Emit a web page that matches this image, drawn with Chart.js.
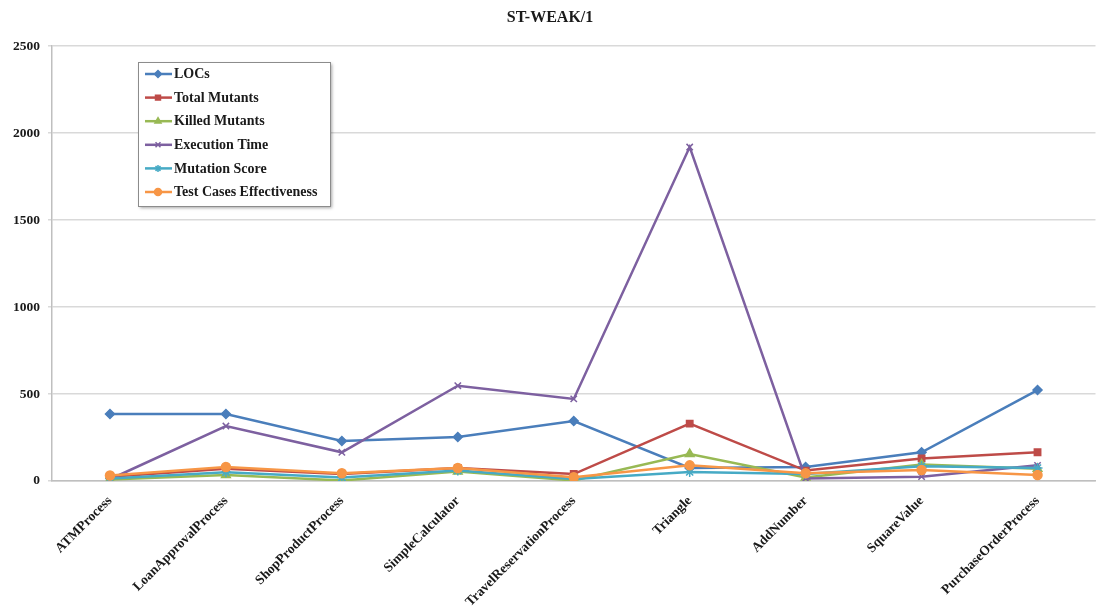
<!DOCTYPE html>
<html>
<head>
<meta charset="utf-8">
<script src="https://cdn.jsdelivr.net/npm/chart.js@4/dist/chart.umd.min.js"></script>
<style>
  html, body { margin: 0; padding: 0; background: #ffffff; }
  #wrap { width: 1102px; height: 614px; position: relative; }
</style>
</head>
<body>
<div id="wrap"><canvas id="c" width="1102" height="614"></canvas></div>
<script>
// Programs under test
const programs = ['ATMProcess', 'LoanApprovalProcess', 'ShopProductProcess', 'SimpleCalculator',
  'TravelReservationProcess', 'Triangle', 'AddNumber', 'SquareValue', 'PurchaseOrderProcess'];

// Measurements per program
const locs              = [385, 385, 230, 253, 345, 75, 80, 165, 523];
const totalMutants      = [25, 70, 40, 75, 40, 330, 60, 130, 165];
const killedMutants     = [8, 35, 3, 55, 3, 155, 20, 95, 70];
const executionTime     = [10, 316, 165, 548, 472, 1920, 15, 25, 90];
const mutationScore     = [15, 50, 20, 60, 12, 52, 40, 85, 75];
const testCasesEffect   = [32, 80, 45, 75, 22, 90, 45, 63, 35];

// Y axis ticks
const yTicks = [0, 500, 1000, 1500, 2000, 2500];

const FONT = "'Liberation Serif', 'Times New Roman', serif";

const seriesDefs = [
  { label: 'LOCs', data: locs, color: '#4a7ebb', style: 'rectRot', r: 4.5 },
  { label: 'Total Mutants', data: totalMutants, color: '#be4b48', style: 'rect', r: 4.5 },
  { label: 'Killed Mutants', data: killedMutants, color: '#98b954', style: 'triangle', r: 5 },
  { label: 'Execution Time', data: executionTime, color: '#7d60a0', style: 'crossRot', r: 4.5 },
  { label: 'Mutation Score', data: mutationScore, color: '#46aac5', style: 'star', r: 5 },
  { label: 'Test Cases Effectiveness', data: testCasesEffect, color: '#f79646', style: 'circle', r: 4.5 }
];

const datasets = seriesDefs.map((s, i) => ({
  label: s.label,
  data: s.data,
  borderColor: s.color,
  backgroundColor: s.color,
  pointBackgroundColor: s.color,
  pointBorderColor: s.color,
  pointStyle: s.style,
  pointRadius: s.r,
  pointBorderWidth: 1.5,
  borderWidth: 2.5,
  tension: 0,
  fill: false,
  order: seriesDefs.length - i
}));

// Boxed legend placed inside the plot area, line-with-marker samples
const boxedLegend = {
  id: 'boxedLegend',
  afterDraw(chart) {
    const ctx = chart.ctx;
    const x = 138, y = 62, w = 192, h = 144;
    ctx.save();
    ctx.shadowColor = 'rgba(0,0,0,0.35)';
    ctx.shadowOffsetX = 2;
    ctx.shadowOffsetY = 2;
    ctx.shadowBlur = 3;
    ctx.fillStyle = '#ffffff';
    ctx.fillRect(x, y, w, h);
    ctx.restore();
    ctx.save();
    ctx.strokeStyle = '#8c8c8c';
    ctx.lineWidth = 1;
    ctx.strokeRect(x + 0.5, y + 0.5, w, h);
    ctx.font = 'bold 14px ' + FONT;
    ctx.textBaseline = 'middle';
    chart.data.datasets.forEach((ds, i) => {
      const cy = y + 12 + i * 23.6;
      ctx.strokeStyle = ds.borderColor;
      ctx.fillStyle = ds.borderColor;
      ctx.lineWidth = 2.5;
      ctx.beginPath();
      ctx.moveTo(x + 7, cy);
      ctx.lineTo(x + 34, cy);
      ctx.stroke();
      ctx.lineWidth = 1.5;
      Chart.helpers.drawPoint(ctx, {
        pointStyle: ds.pointStyle, radius: 3.5, rotation: 0, borderWidth: 1.5
      }, x + 20, cy);
      ctx.fillStyle = '#1a1a1a';
      ctx.fillText(ds.label, x + 36, cy + 0.5);
    });
    ctx.restore();
  }
};

new Chart(document.getElementById('c'), {
  type: 'line',
  data: { labels: programs, datasets },
  options: {
    responsive: false,
    animation: false,
    layout: { padding: { top: 0, right: 2, bottom: 0, left: 0 } },
    plugins: {
      legend: { display: false },
      tooltip: { enabled: false },
      title: {
        display: true,
        text: 'ST-WEAK/1',
        color: '#1a1a1a',
        font: { family: FONT, size: 16, weight: 'bold' },
        padding: { top: 8, bottom: 19 }
      }
    },
    scales: {
      x: {
        offset: true,
        grid: { display: false, drawTicks: false },
        border: { display: true, color: '#bfbfbf', width: 1.5 },
        ticks: {
          color: '#1a1a1a',
          font: { family: FONT, size: 13.5, weight: 'bold' },
          minRotation: 45,
          maxRotation: 45,
          padding: 12,
          autoSkip: false
        },
        afterFit(scale) { scale.height = 133; }
      },
      y: {
        min: 0,
        max: 2500,
        afterBuildTicks(scale) { scale.ticks = yTicks.map(v => ({ value: v })); },
        grid: { color: '#d9d9d9', lineWidth: 1.5, tickLength: 4 },
        border: { display: true, color: '#bfbfbf', width: 1.5 },
        ticks: {
          color: '#1a1a1a',
          font: { family: FONT, size: 13.5, weight: 'bold' },
          padding: 8,
          callback: v => String(v)
        },
        afterFit(scale) { scale.width = 52; }
      }
    }
  },
  plugins: [boxedLegend]
});
</script>
</body>
</html>
